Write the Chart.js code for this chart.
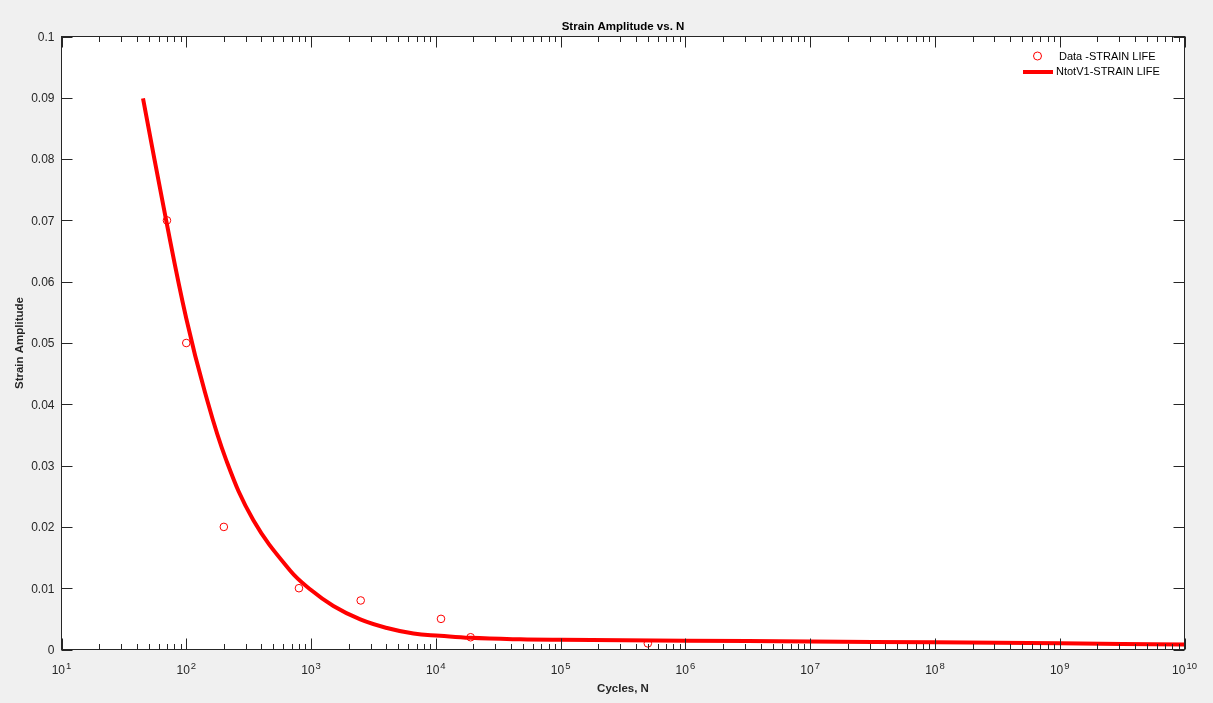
<!DOCTYPE html>
<html lang="en">
<head>
    <meta charset="UTF-8">
    <title>Strain Amplitude vs. N</title>
    <script src="https://cdn.jsdelivr.net/npm/chart.js"></script>
    <style>
        body {
            margin: 0;
            background-color: #f0f0f0;
        }
        canvas {
            display: block;
        }
    </style>
</head>
<body>
    <canvas id="strainChart" width="1213" height="703"></canvas>

    <script>
        // Measured data points
        const dataCycles = [70, 100, 200, 800, 2500, 11000, 19000, 500000];
        const dataStrain = [0.07, 0.05, 0.02, 0.01, 0.008, 0.005, 0.002, 0.001];

        // Fitted strain-life curve
        const fitCycles = [45, 69, 100, 141, 209, 345, 679, 1000, 1510, 2480, 4060, 6620, 10800, 18900, 47500, 1e5, 1e6, 1e7, 1e8, 1e9, 1e10];
        const fitStrain = [0.0899, 0.0700, 0.0540, 0.0420, 0.0309, 0.0211, 0.0129, 0.0097, 0.0071, 0.0049, 0.0035, 0.0026, 0.00225, 0.0019, 0.00166, 0.00158, 0.00144, 0.0013, 0.00117, 0.0010, 0.0008];

        // Axis ticks
        const xTickExponents = [1, 2, 3, 4, 5, 6, 7, 8, 9, 10];
        const yTickValues = [0, 0.01, 0.02, 0.03, 0.04, 0.05, 0.06, 0.07, 0.08, 0.09, 0.1];
        const yTickLabels = ['0', '0.01', '0.02', '0.03', '0.04', '0.05', '0.06', '0.07', '0.08', '0.09', '0.1'];

        const FONT = '"Liberation Sans", Arial, Helvetica, sans-serif';
        const AXIS_COLOR = '#262626';

        // Draws the MATLAB style box, inward ticks, labels, titles and legend
        const matlabAxes = {
            id: 'matlabAxes',
            beforeDraw(chart) {
                const { ctx, chartArea: a } = chart;
                ctx.save();
                ctx.fillStyle = '#ffffff';
                ctx.fillRect(a.left, a.top, a.right - a.left, a.bottom - a.top);
                ctx.restore();
            },
            afterDraw(chart) {
                const { ctx, chartArea: a } = chart;
                const xs = chart.scales.x;
                const ys = chart.scales.y;
                ctx.save();
                ctx.strokeStyle = AXIS_COLOR;
                ctx.lineWidth = 1;
                ctx.strokeRect(a.left, a.top, a.right - a.left, a.bottom - a.top);

                // x ticks (major + minor), top and bottom
                ctx.beginPath();
                xTickExponents.forEach((e, i) => {
                    const base = Math.pow(10, e);
                    const px = Math.round(xs.getPixelForValue(base)) + 0.5;
                    ctx.moveTo(px, a.bottom); ctx.lineTo(px, a.bottom - 11);
                    ctx.moveTo(px, a.top); ctx.lineTo(px, a.top + 11);
                    if (i < xTickExponents.length - 1) {
                        for (let m = 2; m <= 9; m++) {
                            const mx = Math.round(xs.getPixelForValue(m * base)) + 0.5;
                            ctx.moveTo(mx, a.bottom); ctx.lineTo(mx, a.bottom - 5.5);
                            ctx.moveTo(mx, a.top); ctx.lineTo(mx, a.top + 5.5);
                        }
                    }
                });
                // y ticks, left and right
                yTickValues.forEach(v => {
                    const py = Math.round(ys.getPixelForValue(v)) + 0.5;
                    ctx.moveTo(a.left, py); ctx.lineTo(a.left + 11, py);
                    ctx.moveTo(a.right, py); ctx.lineTo(a.right - 11, py);
                });
                ctx.stroke();

                // y tick labels
                ctx.fillStyle = AXIS_COLOR;
                ctx.font = '12px ' + FONT;
                ctx.textAlign = 'right';
                ctx.textBaseline = 'middle';
                yTickValues.forEach((v, i) => {
                    ctx.fillText(yTickLabels[i], a.left - 7, ys.getPixelForValue(v) + 1);
                });

                // x tick labels: 10 with superscript exponent
                ctx.textAlign = 'left';
                ctx.textBaseline = 'alphabetic';
                xTickExponents.forEach(e => {
                    const px = xs.getPixelForValue(Math.pow(10, e));
                    ctx.font = '12px ' + FONT;
                    const wBase = ctx.measureText('10').width;
                    ctx.font = '9.5px ' + FONT;
                    const wExp = ctx.measureText(String(e)).width;
                    const start = px - (wBase + wExp + 1) / 2;
                    ctx.font = '12px ' + FONT;
                    ctx.fillText('10', start, 674);
                    ctx.font = '9.5px ' + FONT;
                    ctx.fillText(String(e), start + wBase + 1, 669);
                });

                // titles
                const cx = (a.left + a.right) / 2;
                ctx.fillStyle = '#000000';
                ctx.font = 'bold 11.5px ' + FONT;
                ctx.textAlign = 'center';
                ctx.fillText('Strain Amplitude vs. N', cx, 30);
                ctx.fillStyle = AXIS_COLOR;
                ctx.fillText('Cycles, N', cx, 692);
                ctx.save();
                ctx.translate(23, (a.top + a.bottom) / 2);
                ctx.rotate(-Math.PI / 2);
                ctx.fillText('Strain Amplitude', 0, 0);
                ctx.restore();

                // legend
                const ds = chart.data.datasets;
                ctx.font = '11px ' + FONT;
                ctx.textAlign = 'left';
                ctx.textBaseline = 'middle';
                ctx.fillStyle = '#000000';
                ctx.strokeStyle = ds[0].borderColor;
                ctx.lineWidth = 1;
                ctx.beginPath();
                ctx.arc(1037.5, 56, 4, 0, Math.PI * 2);
                ctx.stroke();
                ctx.fillText(ds[0].label, 1059, 57);
                ctx.strokeStyle = ds[1].borderColor;
                ctx.lineWidth = 4;
                ctx.beginPath();
                ctx.moveTo(1023, 72);
                ctx.lineTo(1053, 72);
                ctx.stroke();
                ctx.fillText(ds[1].label, 1056, 72);
                ctx.restore();
            }
        };

        new Chart(document.getElementById('strainChart'), {
            type: 'scatter',
            data: {
                datasets: [{
                    label: 'Data -STRAIN LIFE',
                    data: dataCycles.map((n, i) => ({ x: n, y: dataStrain[i] })),
                    showLine: false,
                    pointStyle: 'circle',
                    pointRadius: 3.8,
                    borderWidth: 1,
                    borderColor: '#ff0000',
                    backgroundColor: 'rgba(0,0,0,0)'
                }, {
                    label: 'NtotV1-STRAIN LIFE',
                    data: fitCycles.map((n, i) => ({ x: n, y: fitStrain[i] })),
                    showLine: true,
                    pointRadius: 0,
                    borderWidth: 4,
                    borderColor: '#ff0000',
                    tension: 0.4
                }]
            },
            options: {
                responsive: false,
                animation: false,
                devicePixelRatio: 1,
                layout: {
                    padding: { left: 61.5, top: 36.5, right: 28.5, bottom: 53.5 }
                },
                plugins: {
                    legend: { display: false },
                    tooltip: { enabled: false }
                },
                scales: {
                    x: { type: 'logarithmic', min: 10, max: 1e10, display: false },
                    y: { type: 'linear', min: 0, max: 0.1, display: false }
                }
            },
            plugins: [matlabAxes]
        });
    </script>
</body>
</html>
